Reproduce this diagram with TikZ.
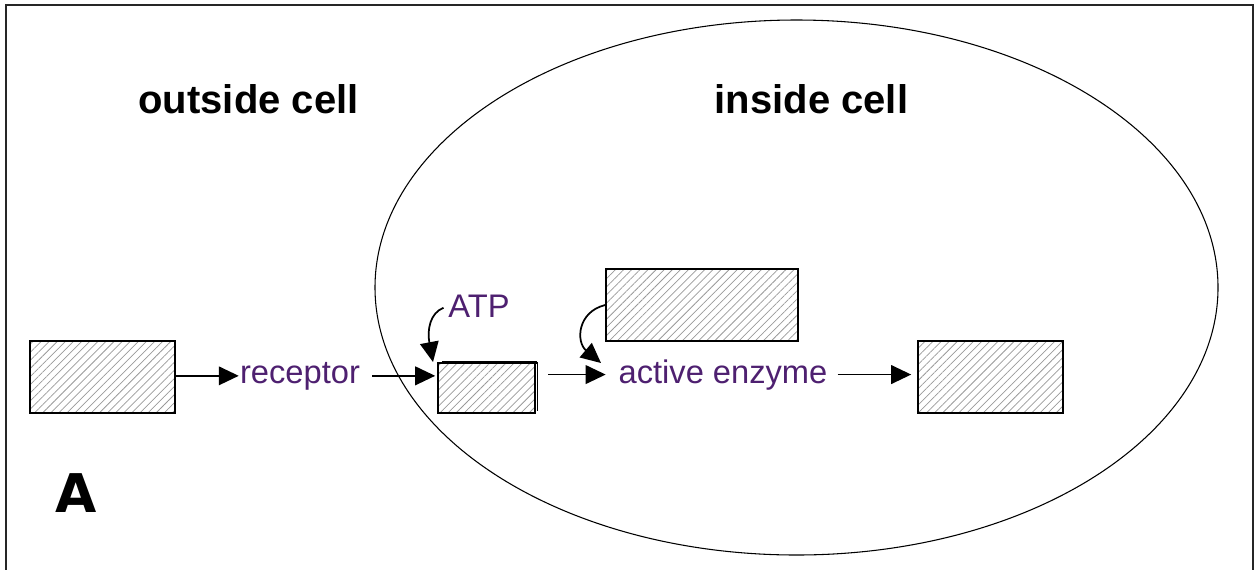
\documentclass[tikz,border=0pt]{standalone}
\usepackage{fontspec}
\setmainfont{Liberation Sans}
\newfontfamily\titlefont{Liberation Sans}
\newfontfamily\panelfont{DejaVu Sans}
\usetikzlibrary{arrows.meta,patterns.meta}
\definecolor{labelpurple}{RGB}{78,32,112}
\begin{document}
\begin{tikzpicture}[x=0.75pt,y=-0.75pt,
  hatchbox/.style={draw, line width=1.2pt, inner sep=0pt,
    pattern={Lines[angle=45,distance=4.3pt,line width=0.55pt]},
    pattern color=black!40},
  label/.style={inner sep=0pt, text=labelpurple, font=\fontsize{24.5}{26}\selectfont},
  heading/.style={inner sep=0pt, anchor=base, font=\titlefont\bfseries\fontsize{30}{32}\selectfont},
  arr/.style={line width=1.3pt, -{Triangle[length=15pt,width=14pt]}},
]
\useasboundingbox (0,0) rectangle (1255,569);
% outer frame (open at the bottom)
\draw[line width=1.6pt, black!85] (6,575) -- (6,5) -- (1253,5) -- (1253,575);

% the cell
\draw[line width=0.8pt] (796.5,287.5) ellipse [x radius=421.5, y radius=267.5];

% headings and panel letter
\node[heading] (outside) at (248.5,113) {outside cell};
\node[heading] (inside) at (811.5,113) {inside cell};
\node[inner sep=0pt, anchor=base, font=\panelfont\bfseries\fontsize{40}{42}\selectfont] (panel) at (76,512) {A};

% hatched boxes
\node[hatchbox, minimum width={145*0.75pt}, minimum height={72*0.75pt}] (box1) at (102.5,377) {};
\node[hatchbox, minimum width={97*0.75pt}, minimum height={50*0.75pt}] (box2) at (486.5,388) {};
\node[hatchbox, minimum width={192*0.75pt}, minimum height={72*0.75pt}] (box3) at (702,305) {};
\node[hatchbox, minimum width={145*0.75pt}, minimum height={72*0.75pt}] (box4) at (990.5,377) {};
% heavier top edge on the small box
\draw[line width=2.4pt] ([xshift=3.5pt]box2.north west) -- ([xshift=1.2pt]box2.north east);
\draw[line width=1.2pt] ([xshift=1.2pt]box2.north east) -- ([xshift=1.2pt,yshift=2pt]box2.south east);

% text labels
\node[label, anchor=base] (rec) at (300,383) {receptor};
\node[label, anchor=base] (act) at (723,383) {active enzyme};
\node[label, anchor=base] (atp) at (479,317) {ATP};

% main chain of arrows
\draw[arr] (box1.east |- rec.west) -- ([xshift=-0.8pt]rec.west);
\draw[arr] ([xshift=9pt]rec.east) -- ([xshift=-1.5pt]box2.west |- rec.east);
\draw[arr] ([xshift=9.5pt]box2.east |- act.west) -- ([xshift=-9.5pt]act.west);
\draw[arr] ([xshift=7.5pt]act.east) -- ([xshift=-4.5pt]box4.west |- act.east);

% curved side arrows
\coordinate (atpin) at (433,362);
\coordinate (actin) at (601,363);
\draw[arr] ([xshift=-3.5pt,yshift=-1.5pt]atp.west) .. controls (430,313) and (427,330) .. (atpin);
\draw[arr] (box3.west) .. controls (577,312) and (576,342) .. (actin);
\end{tikzpicture}
\end{document}
